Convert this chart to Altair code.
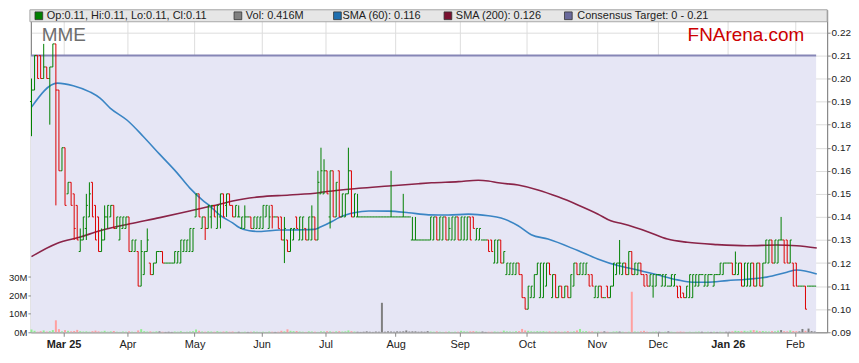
import altair as alt
import pandas as pd

FONT = "Liberation Sans, Arial, sans-serif"

# ---------------- data ----------------
# trading-day bars per calendar month block (Feb-25 ... Feb-26)
bars_per_month = [11, 21, 22, 22, 21, 23, 21, 22, 23, 20, 23, 22, 7]
tick_labels = ["Mar 25", "Apr", "May", "Jun", "Jul", "Aug", "Sep", "Oct", "Nov", "Dec", "Jan 26", "Feb"]
bold_labels = ["Mar 25", "Jan 26"]

open_ = (
    [.19, .195, .21, .21, .20, .205, .20, .205, .215, .195, .16]
    + [.17, .15, .155, .15, .145, .125, .13, .135, .14, .155, .145, .14, .125, .13, .14, .14, .145, .135, .13, .135, .135]
    + [.14, .125, .125, .125, .11, .115, .125, .12, .115, .12, .125, .125, .12, .12, .12, .12, .12, .12, .125, .125, .125, .125]
    + [.14, .15, .135, .14, .135, .14, .145, .135, .14, .15, .145, .15, .145, .14, .14, .135, .135, .14, .14, .135, .135, .135]
    + [.135, .14, .135, .145, .14, .14, .14, .13, .13, .125, .13, .14, .13, .13, .135, .13, .13, .14, .13, .15, .15]
    + [.16, .14, .16, .14, .16, .14, .14, .15, .16, .14, .14] + [.14] * 10 + [.14, .14]
    + [.14, .14, .14, .14, .14, .13, .13, .13, .13, .13, .13, .13, .13, .14, .13, .13, .14, .13, .13, .13, .14]
    + [.13, .13, .13, .14, .14, .13, .13, .13, .13, .13, .13, .12, .12, .13, .12, .115, .115, .115, .115, .12, .115, .105]
    + [.10, .105, .105, .115, .105, .105, .11, .12, .105, .115, .105, .11, .105, .11, .105, .11, .12, .115, .115, .115, .115, .115, .105]
    + [.105, .11, .105, .11, .105, .11, .115, .12, .115, .12, .115, .125, .115, .115, .12, .115, .115, .11, .11, .11]
    + [.115, .11, .11, .11, .11, .11, .11, .11, .107, .105, .105, .105, .11, .11, .115, .11, .11, .115, .11, .115, .115, .115, .12]
    + [.12, .12, .115, .115, .12, .11, .11, .11, .12, .11, .12, .11, .12, .12, .13, .12, .12, .13, .13, .13, .12, .12]
    + [.12, .11, .11, .11, .11, .11, .11]
)
high = (
    [.20, .21, .21, .21, .215, .205, .205, .215, .215, .195, .17]
    + [.17, .155, .155, .15, .145, .135, .14, .15, .155, .155, .145, .14, .135, .145, .145, .145, .145, .14, .14, .14, .14]
    + [.14, .13, .13, .125, .13, .125, .135, .12, .12, .125, .125, .125, .12, .12, .12, .125, .125, .13, .13, .13, .135, .135]
    + [.15, .15, .14, .14, .145, .145, .145, .145, .15, .15, .15, .15, .145, .145, .145, .14, .145, .14, .14, .14, .14, .14]
    + [.145, .145, .145, .145, .14, .14, .14, .14, .13, .135, .135, .14, .14, .14, .135, .14, .145, .14, .16, .17, .165]
    + [.16, .16, .16, .155, .16, .15, .15, .17, .16, .15, .15] + [.14] * 10 + [.16, .14]
    + [.14, .14, .15, .14, .14, .14, .14, .13, .13, .13, .13, .14, .14, .14, .14, .14, .14, .14, .14, .14, .14]
    + [.14, .14, .14, .14, .14, .135, .135, .13, .13, .13, .13, .13, .13, .13, .125, .12, .12, .12, .12, .12, .115, .105]
    + [.11, .11, .115, .12, .12, .12, .12, .12, .115, .115, .11, .11, .11, .11, .115, .12, .12, .12, .12, .12, .115, .115, .11]
    + [.11, .11, .105, .11, .11, .12, .12, .13, .12, .12, .125, .125, .12, .12, .12, .115, .115, .115, .115, .115]
    + [.115, .115, .115, .11, .115, .115, .11, .11, .107, .11, .115, .115, .115, .115, .115, .115, .115, .115, .115, .115, .12, .12, .12]
    + [.12, .12, .125, .12, .12, .12, .12, .12, .12, .12, .12, .12, .13, .13, .13, .13, .13, .14, .13, .13, .13, .12]
    + [.12, .11, .11, .11, .11, .11, .11]
)
low = (
    [.175, .195, .20, .20, .20, .20, .18, .205, .145, .16, .16]
    + [.145, .15, .145, .13, .13, .125, .13, .13, .14, .14, .13, .125, .125, .13, .135, .14, .135, .135, .13, .135, .135]
    + [.125, .125, .125, .11, .11, .115, .125, .115, .115, .12, .125, .12, .12, .12, .12, .12, .12, .12, .125, .125, .125, .125]
    + [.14, .14, .135, .13, .135, .135, .14, .135, .135, .14, .14, .145, .14, .14, .14, .135, .135, .14, .135, .135, .135, .135]
    + [.135, .14, .135, .135, .14, .135, .13, .12, .125, .125, .13, .135, .13, .13, .13, .13, .13, .13, .13, .15, .15]
    + [.15, .135, .14, .14, .14, .14, .14, .15, .14, .14, .14] + [.14] * 10 + [.14, .14]
    + [.14, .14, .14, .14, .14, .13, .13, .13, .13, .13, .13, .13, .13, .13, .13, .13, .13, .13, .13, .13, .13]
    + [.13, .13, .13, .13, .135, .13, .13, .13, .13, .125, .125, .12, .12, .12, .12, .115, .115, .115, .115, .115, .105, .10]
    + [.10, .105, .105, .115, .105, .105, .11, .115, .105, .105, .105, .105, .105, .105, .105, .11, .115, .115, .115, .115, .11, .11, .105]
    + [.105, .105, .105, .105, .105, .11, .115, .115, .115, .115, .115, .115, .115, .115, .115, .11, .11, .11, .105, .11]
    + [.115, .11, .11, .11, .11, .11, .105, .105, .105, .105, .105, .105, .11, .11, .115, .11, .11, .115, .11, .115, .115, .115, .12]
    + [.12, .115, .115, .115, .11, .11, .11, .11, .11, .11, .11, .11, .12, .12, .12, .12, .12, .13, .12, .12, .12, .11]
    + [.11, .11, .11, .10, .11, .11, .11]
)
close = (
    [.195, .21, .20, .20, .205, .20, .205, .215, .195, .16, .17]
    + [.145, .155, .145, .135, .13, .13, .14, .145, .15, .14, .13, .125, .13, .14, .145, .145, .135, .14, .14, .14, .14]
    + [.125, .13, .13, .11, .125, .125, .13, .115, .12, .125, .125, .12, .12, .12, .12, .125, .125, .13, .13, .13, .135, .135]
    + [.15, .14, .14, .135, .145, .145, .14, .145, .15, .14, .15, .145, .14, .145, .14, .14, .14, .14, .135, .14, .14, .14]
    + [.145, .145, .14, .14, .14, .135, .13, .135, .125, .135, .135, .135, .14, .14, .13, .14, .14, .13, .155, .16, .16]
    + [.15, .16, .14, .155, .14, .15, .15, .16, .14, .15, .14] + [.14] * 10 + [.14, .14]
    + [.14, .14, .14, .14, .14, .13, .13, .13, .13, .13, .13, .14, .14, .13, .14, .14, .13, .135, .14, .14, .13]
    + [.14, .14, .14, .13, .135, .135, .135, .13, .13, .125, .125, .13, .13, .12, .125, .12, .12, .12, .12, .115, .105, .10]
    + [.11, .11, .115, .12, .12, .12, .12, .115, .115, .105, .11, .105, .11, .105, .115, .12, .115, .12, .12, .12, .11, .11, .11]
    + [.11, .105, .105, .105, .11, .12, .12, .12, .12, .115, .125, .115, .12, .12, .115, .11, .11, .115, .115, .115]
    + [.115, .115, .115, .11, .115, .115, .105, .105, .105, .11, .115, .115, .115, .115, .115, .115, .115, .115, .115, .115, .12, .12, .12]
    + [.12, .115, .12, .12, .11, .12, .12, .12, .11, .12, .11, .12, .13, .13, .12, .13, .13, .13, .12, .12, .13, .11]
    + [.11, .11, .11, .10, .11, .11, .11]
)
volume_m = (
    [1.5, 0.8, 0.3, 0.6, 1.0, 0.4, 0.6, 1.2, 6.5, 1.7, 0.5]
    + [1.2, 0.8, 0.5, 0.7, 1.3, 0.6, 0.4, 0.5, 0.3, 0.6, 0.9, 0.5, 0.4, 0.8, 0.3, 0.5, 0.7, 0.3, 0.2, 0.4, 0.3]
    + [0.5, 0.3, 0.2, 1.0, 1.7, 0.6, 0.4, 0.5, 0.3, 0.5, 0.5, 0.3, 0.2, 0.3, 0.2, 0.4, 0.3, 0.6, 0.2, 0.3, 0.4, 0.5]
    + [1.5, 0.8, 0.4, 0.3, 0.5, 0.4, 0.3, 0.6, 0.3, 0.4, 0.5, 0.3, 0.4, 0.2, 0.3, 0.2, 0.3, 0.2, 0.3, 0.4, 0.3, 0.2]
    + [0.3, 0.2, 0.4, 0.3, 0.2, 0.3, 0.8, 0.5, 1.6, 0.8, 0.6, 0.7, 0.4, 0.3, 0.2, 0.5, 0.4, 0.3, 0.2, 0.5, 0.4]
    + [0.6, 0.5, 0.3, 0.5, 0.6, 0.4, 0.5, 1.0, 0.6, 0.4, 0.3, 0.2, 0.3, 0.5, 0.3, 0.2, 0.4, 0.3, 16.0, 0.3, 0.5, 0.4, 0.3]
    + [0.5, 0.4, 0.5, 1.0, 0.4, 0.5, 0.5, 0.3, 0.4, 0.3, 0.6, 0.4, 0.3, 0.5, 0.3, 0.2, 0.3, 0.4, 0.2, 0.3, 0.3]
    + [0.8, 0.5, 0.4, 0.5, 0.6, 0.5, 0.3, 0.4, 0.2, 0.3, 0.3, 0.4, 0.3, 0.3, 0.9, 0.5, 0.4, 0.3, 0.5, 0.6, 1.8, 1.0]
    + [0.8, 0.5, 0.4, 0.6, 0.5, 0.6, 0.4, 0.5, 0.3, 0.5, 0.4, 0.3, 0.4, 0.6, 0.3, 0.5, 1.0, 1.8, 0.5, 0.6, 0.4, 0.5, 0.3]
    + [0.4, 0.3, 0.5, 0.3, 0.2, 0.4, 0.5, 0.4, 0.3, 0.2, 0.3, 22.0, 0.4, 0.3, 0.5, 0.8, 0.3, 0.2, 0.3, 0.4]
    + [0.3, 0.2, 0.3, 0.5, 0.3, 0.2, 0.3, 0.4, 0.3, 0.2, 0.3, 0.2, 0.3, 0.4, 0.3, 0.2, 0.3, 0.2, 0.3, 0.2, 0.3, 0.2, 0.3]
    + [0.3, 0.5, 0.8, 0.7, 0.6, 0.8, 0.5, 1.0, 1.2, 0.9, 0.6, 0.7, 0.5, 0.4, 0.6, 0.5, 0.9, 1.2, 0.6, 0.5, 1.0, 0.7]
    + [0.6, 0.5, 1.8, 0.8, 2.0, 0.6, 0.416]
)

# moving averages (bar index, value)
sma60_idx = [0, 8.5, 13.7, 19.3, 22.5, 25.8, 31.4, 36.6, 42.1, 47.7, 51.9, 56.2, 58.5, 61.7, 66, 68, 71.5, 74.8,
             81.3, 87.9, 92.7, 95, 98.6, 100.9, 105.8, 110.7, 117.2, 123.8, 130.3, 136.8, 143.4, 149.9, 154.1,
             159.7, 164, 169.5, 179.3, 185.8, 192.4, 198.9, 205.4, 212, 216.8, 221.7, 228.3, 234.8, 241.3,
             247.9, 251.1, 257.7]
sma60_val = [.1876, .198, .1969, .1941, .1915, .1872, .1819, .175, .1671, .1592, .1526, .1472, .1448, .1409, .1374,
             .1355, .134, .1337, .1343, .1344, .1346, .1357, .138, .1397, .1418, .1426, .1425, .1418, .1409, .1408,
             .1412, .1405, .1395, .1362, .1323, .1304, .1254, .1218, .1189, .117, .1149, .1127, .1117, .1117,
             .1124, .113, .1139, .116, .117, .1153]
sma200_idx = [0, 8.5, 16, 22.5, 32.3, 42.1, 51.9, 61.7, 66, 74.8, 84.6, 94.4, 97, 107.4, 117.2, 127, 131.3, 140.1,
              146.6, 149.9, 153.2, 159.7, 166.2, 172.8, 179.3, 185.8, 190.1, 194, 202.2, 208.7, 215.2, 225,
              234.8, 244.6, 251.1, 257.7]
sma200_val = [.1228, .1286, .1313, .134, .137, .1397, .1426, .1455, .1469, .1487, .1495, .1505, .151, .1524, .1534,
              .1544, .1548, .1553, .1559, .1556, .1548, .1538, .1517, .1487, .1452, .1413, .1383, .137, .1336,
              .1304, .129, .128, .1275, .1278, .1275, .1265]

consensus_low, consensus_high = 0.0, 0.21
price_ticks = [0.09, 0.10, 0.11, 0.12, 0.13, 0.14, 0.15, 0.16, 0.17, 0.18, 0.19, 0.20, 0.21, 0.22]
volume_ticks = [0, 10, 20, 30]

legend_labels = ["Op:0.11, Hi:0.11, Lo:0.11, Cl:0.11", "Vol: 0.416M", "SMA (60): 0.116",
                 "SMA (200): 0.126", "Consensus Target: 0 - 0.21"]

n = len(open_)
assert len(high) == n and len(low) == n and len(close) == n and len(volume_m) == n == sum(bars_per_month), \
    (len(open_), len(high), len(low), len(close), len(volume_m), sum(bars_per_month))

# ---------------- styles ----------------
GREEN, RED = "#008000", "#DD0000"
VOL_UP, VOL_DOWN, VOL_FLAT = "#90EE90", "#FFA0A0", "#808080"
SMA60_C, SMA200_C = "#3A85C4", "#8A2448"
BAND_C, BAND_EDGE = "#E6E6F5", "#8686B6"
legend_colors = [GREEN, "#808080", "#1F6FB0", "#7A1030", "#6A6A9C"]
legend_sq_x = [8, 208, 308, 419, 540]
legend_tx_x = [16, 216, 313, 427, 549]

# ---------------- frames ----------------
idx = list(range(n))
df = pd.DataFrame({"i": idx, "O": open_, "H": high, "L": low, "C": close, "V": volume_m})
df["xl"] = df["i"] - 0.5
df["xr"] = df["i"] + 0.5
df["dir"] = ["up" if round(c - o, 4) >= 0 else "down" for o, c in zip(open_, close)]
df["vdir"] = ["flat" if round(c - o, 4) == 0 else ("up" if c > o else "down") for o, c in zip(open_, close)]

starts = [sum(bars_per_month[:k]) for k in range(1, len(bars_per_month))]
tick_vals = [s - 0.5 for s in starts]
bold_vals = [tick_vals[tick_labels.index(b)] for b in bold_labels]

sma60 = pd.DataFrame({"i": sma60_idx, "v": sma60_val})
sma200 = pd.DataFrame({"i": sma200_idx, "v": sma200_val})
band = pd.DataFrame({"x0": [idx[0] - 0.5], "x1": [idx[-1] + 0.5], "lo": [consensus_low], "hi": [consensus_high]})
leg = pd.DataFrame({"label": legend_labels, "color": legend_colors, "sx": legend_sq_x, "tx": legend_tx_x})
one = pd.DataFrame({"a": [0]})

# ---------------- scales / axes ----------------
xscale = alt.Scale(domain=[-0.2, 261.1], nice=False, zero=False, padding=0)
pscale = alt.Scale(domain=[0.09, 0.22978], nice=False, zero=False, padding=0)
vscale = alt.Scale(domain=[0, 175.1], nice=False, zero=True, padding=0)

label_expr = "[" + ",".join("'%s'" % l for l in tick_labels) + "][indexof([" + \
    ",".join(str(v) for v in tick_vals) + "], datum.value)]"
bold_test = "indexof([" + ",".join(str(v) for v in bold_vals) + "], datum.value) >= 0"

x_axis = alt.Axis(values=tick_vals, labelExpr=label_expr, grid=True, gridColor="#DDDDDD",
                  domainColor="#888888", tickColor="#888888", tickSize=4, labelFontSize=11,
                  labelColor="#222222", labelPadding=2, title=None, labelFont=FONT,
                  labelFontWeight={"condition": {"test": bold_test, "value": "bold"}, "value": "normal"})
p_axis = alt.Axis(orient="right", values=price_ticks, format=".2f", grid=True, gridColor="#DDDDDD",
                  domainColor="#888888", tickColor="#888888", tickSize=3, labelFontSize=10,
                  labelColor="#222222", labelPadding=1, title=None, labelFont=FONT)
v_axis = alt.Axis(orient="left", values=volume_ticks, labelExpr="datum.value + 'M'", grid=False,
                  domainColor="#888888", tickColor="#888888", tickSize=3, labelFontSize=9.5,
                  labelColor="#222222", labelPadding=1, title=None, labelFont=FONT)


def X(field):
    return alt.X(field, type="quantitative", scale=xscale, axis=x_axis)


def PY(field):
    return alt.Y(field, type="quantitative", scale=pscale, axis=p_axis)


ohlc_color = alt.Color("dir:N", scale=alt.Scale(domain=["up", "down"], range=[GREEN, RED]), legend=None)

# ---------------- layers ----------------
band_rect = alt.Chart(band).mark_rect(fill=BAND_C, clip=True).encode(
    x=X("x0"), x2="x1", y=PY("lo"), y2="hi")
band_edge = alt.Chart(band).mark_rule(color=BAND_EDGE, strokeWidth=2, clip=True).encode(
    x=X("x0"), x2="x1", y=PY("hi"))

sma200_line = alt.Chart(sma200).mark_line(color=SMA200_C, strokeWidth=1.6, interpolate="monotone").encode(
    x=X("i"), y=PY("v"))
sma60_line = alt.Chart(sma60).mark_line(color=SMA60_C, strokeWidth=1.6, interpolate="monotone").encode(
    x=X("i"), y=PY("v"))

hl = alt.Chart(df).mark_rule(strokeWidth=1).encode(x=X("i"), y=PY("L"), y2="H", color=ohlc_color)
op_tick = alt.Chart(df).mark_rule(strokeWidth=1).encode(x=X("xl"), x2="i", y=PY("O"), color=ohlc_color)
cl_tick = alt.Chart(df).mark_rule(strokeWidth=1).encode(x=X("i"), x2="xr", y=PY("C"), color=ohlc_color)

mme = alt.Chart(one).mark_text(text="MME", align="left", baseline="alphabetic", fontSize=19,
                               font=FONT, color="#6E6E6E").encode(x=alt.value(11), y=alt.value(31))
brand = alt.Chart(one).mark_text(text="FNArena.com", align="right", baseline="alphabetic", fontSize=19,
                                 font=FONT, color="#CC0000").encode(x=alt.value(777), y=alt.value(31))

strip = alt.Chart(one).mark_rect(fill="#E6E6E6", stroke="#A8A8A8", strokeWidth=1).encode(
    x=alt.value(-1), x2=alt.value(800), y=alt.value(0), y2=alt.value(12))
leg_sq = alt.Chart(leg).mark_square(size=60, filled=True, stroke="#333333", strokeWidth=0.8, opacity=1).encode(
    x=alt.X("sx:Q", scale=None), y=alt.value(6),
    fill=alt.Fill("color:N", scale=None))
leg_tx = alt.Chart(leg).mark_text(align="left", baseline="middle", fontSize=11, font=FONT, color="#222222").encode(
    x=alt.X("tx:Q", scale=None), y=alt.value(6.5), text="label:N")

price_layer = alt.layer(band_rect, band_edge, sma200_line, sma60_line, hl, op_tick, cl_tick,
                        mme, brand, strip, leg_sq, leg_tx)

vol_bars = alt.Chart(df).mark_bar(size=2).encode(
    x=X("i"),
    y=alt.Y("V:Q", scale=vscale, axis=v_axis),
    color=alt.Color("vdir:N", scale=alt.Scale(domain=["up", "down", "flat"],
                                              range=[VOL_UP, VOL_DOWN, VOL_FLAT]), legend=None))

chart = alt.layer(price_layer, vol_bars).resolve_scale(y="independent", color="independent").properties(
    width=800, height=324, padding={"left": 0, "top": 0, "right": 0, "bottom": 0},
    background="white").configure_view(stroke="#888888", strokeWidth=1)

chart.save("out.html", embed_options={"renderer": "svg", "actions": False})
